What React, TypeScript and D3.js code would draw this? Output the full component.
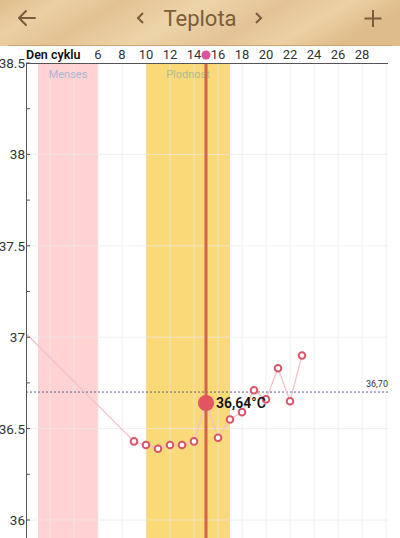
import React from "react";
import * as d3 from "d3";

// cycle days and basal temperatures
const days = [0, 9, 10, 11, 12, 13, 14, 15, 16, 17, 18, 19, 20, 21, 22, 23];
const temps = [37.02, 36.43, 36.41, 36.39, 36.41, 36.41, 36.43, 36.64, 36.45, 36.55, 36.59, 36.71, 36.66, 36.83, 36.65, 36.9];
const dayTicks = [6, 8, 10, 12, 14, 16, 18, 20, 22, 24, 26, 28];
const tempTicks = [36, 36.5, 37, 37.5, 38, 38.5];
const tempTickLabels = ["36", "36.5", "37", "37.5", "38", "38.5"];
const mensesDays = [1, 6];
const fertileDays = [10, 17];
const today = 15;
const coverLine = 36.7;

const W = 400;
const H = 538;
const FONT = "Roboto, 'Noto Sans', sans-serif";
const BROWN = "#7b5c3b";

const App = () => {
  const x = d3.scaleLinear().domain([0, 30]).range([26, 386]);
  const y = d3.scaleLinear().domain([36, 38.5]).range([520, 63]);

  const pts = days.map((d, i) => ({ d, t: temps[i] }));
  const line = d3
    .line<{ d: number; t: number }>()
    .x((p) => x(p.d))
    .y((p) => y(p.t));

  const minorTicks = d3.range(36, 38.51, 0.25);
  const gridDays = d3.range(2, 31, 2);
  const todayPt = pts.find((p) => p.d === today)!;

  return (
    <div style={{ position: "absolute", left: 0, top: 0 }}>
      <svg width={W} height={H} style={{ display: "block", fontFamily: FONT }}>
        <defs>
          <linearGradient id="wood" x1="0" x2="1" y1="0" y2="0.2">
            <stop offset="0" stopColor="#dfbd8c" />
            <stop offset="0.15" stopColor="#ebd0a3" />
            <stop offset="0.3" stopColor="#e2c293" />
            <stop offset="0.5" stopColor="#edd4a8" />
            <stop offset="0.7" stopColor="#e3c395" />
            <stop offset="0.85" stopColor="#ecd1a4" />
            <stop offset="1" stopColor="#dfbc8b" />
          </linearGradient>
          <clipPath id="plot">
            <rect x={x(0)} y={y(38.5)} width={x(30.2) - x(0)} height={H - y(38.5)} />
          </clipPath>
        </defs>
        <rect x={0} y={0} width={W} height={H} fill="#ffffff" />

        {/* header */}
        <rect x={0} y={0} width={W} height={46} fill="url(#wood)" />
        <line x1={8} x2={392} y1={45.5} y2={45.5} stroke="#c8a474" strokeWidth={1} />
        <path d="M19,18 H35 M19,18 L26,11 M19,18 L26,25" stroke={BROWN} strokeWidth={2} fill="none" strokeLinecap="round" />
        <path d="M143,13 L138,18 L143,23" stroke={BROWN} strokeWidth={2} fill="none" />
        <path d="M256,13 L261,18 L256,23" stroke={BROWN} strokeWidth={2} fill="none" />
        <text x={200} y={26} textAnchor="middle" fontSize={22} fill={BROWN}>
          Teplota
        </text>
        <path d="M373,10 V27 M364.5,18.5 H381.5" stroke={BROWN} strokeWidth={2} fill="none" />

        <g clipPath="url(#plot)">
          {/* menses and fertile window */}
          <rect x={x(mensesDays[0])} y={y(38.5)} width={x(mensesDays[1]) - x(mensesDays[0])} height={H} fill="#ffd3d3" />
          <rect x={x(fertileDays[0])} y={y(38.5)} width={x(fertileDays[1]) - x(fertileDays[0])} height={H} fill="#f9d978" />

          {/* grid */}
          {gridDays.map((d) => (
            <line key={"gx" + d} x1={x(d)} x2={x(d)} y1={y(38.5)} y2={H} stroke="#e9e9e9" strokeOpacity={0.7} strokeWidth={1} />
          ))}
          {tempTicks.map((t) => (
            <line key={"gy" + t} x1={x(0)} x2={x(30.2)} y1={y(t)} y2={y(t)} stroke="#e9e9e9" strokeOpacity={0.7} strokeWidth={1} />
          ))}

          <text x={(x(mensesDays[0]) + x(mensesDays[1])) / 2} y={78} textAnchor="middle" fontSize={11} fill="#aab3d6">
            Menses
          </text>
          <text x={(x(fertileDays[0]) + x(fertileDays[1])) / 2} y={78} textAnchor="middle" fontSize={11} fill="#aebb94">
            Plodnost
          </text>

          {/* cover line */}
          <line x1={x(0)} x2={x(30.2)} y1={y(coverLine)} y2={y(coverLine)} stroke="#5d5d8c" strokeWidth={1} strokeDasharray="2,2" />

          {/* temperature curve */}
          <path d={line(pts) || ""} fill="none" stroke="#f1c2c8" strokeWidth={1.3} />

          {/* today marker */}
          <line x1={x(today)} x2={x(today)} y1={y(38.5)} y2={H} stroke="#d4634b" strokeWidth={3} />

          {pts
            .filter((p) => p.d > 0 && p.d !== today)
            .map((p) => (
              <circle key={"p" + p.d} cx={x(p.d)} cy={y(p.t)} r={3.3} fill="#ffffff" stroke="#d8566a" strokeWidth={2} />
            ))}
          <circle cx={x(todayPt.d)} cy={y(todayPt.t)} r={8} fill="#e25462" />
        </g>

        <text x={388} y={387} textAnchor="end" fontSize={9} fill="#333">
          {coverLine.toFixed(2).replace(".", ",")}
        </text>
        <text x={x(todayPt.d) + 10} y={y(todayPt.t) + 5} fontSize={14} fontWeight={600} fill="#111">
          {todayPt.t.toFixed(2).replace(".", ",")}°C
        </text>

        {/* axes */}
        <line x1={x(0)} x2={388} y1={y(38.5) + 0.5} y2={y(38.5) + 0.5} stroke="#555" strokeWidth={1} />
        <line x1={x(0) + 0.5} x2={x(0) + 0.5} y1={y(38.5)} y2={H} stroke="#555" strokeWidth={1} />
        {minorTicks.map((t) => (
          <line key={"mt" + t} x1={x(0)} x2={x(0) + 4} y1={y(t)} y2={y(t)} stroke="#555" strokeWidth={1} />
        ))}
        {tempTicks.map((t, i) => (
          <text key={"yl" + t} x={x(0) - 1} y={y(t) + 5} textAnchor="end" fontSize={13.5} fill="#333">
            {tempTickLabels[i]}
          </text>
        ))}
        <text x={x(0)} y={59} fontSize={12.5} fontWeight={600} fill="#111">
          Den cyklu
        </text>
        {dayTicks.map((d) => (
          <text key={"xl" + d} x={x(d)} y={59} textAnchor="middle" fontSize={13} fill="#333">
            {d}
          </text>
        ))}
        <circle cx={x(today)} cy={55} r={4.5} fill="#e0509c" />
      </svg>
    </div>
  );
};

export default App;
